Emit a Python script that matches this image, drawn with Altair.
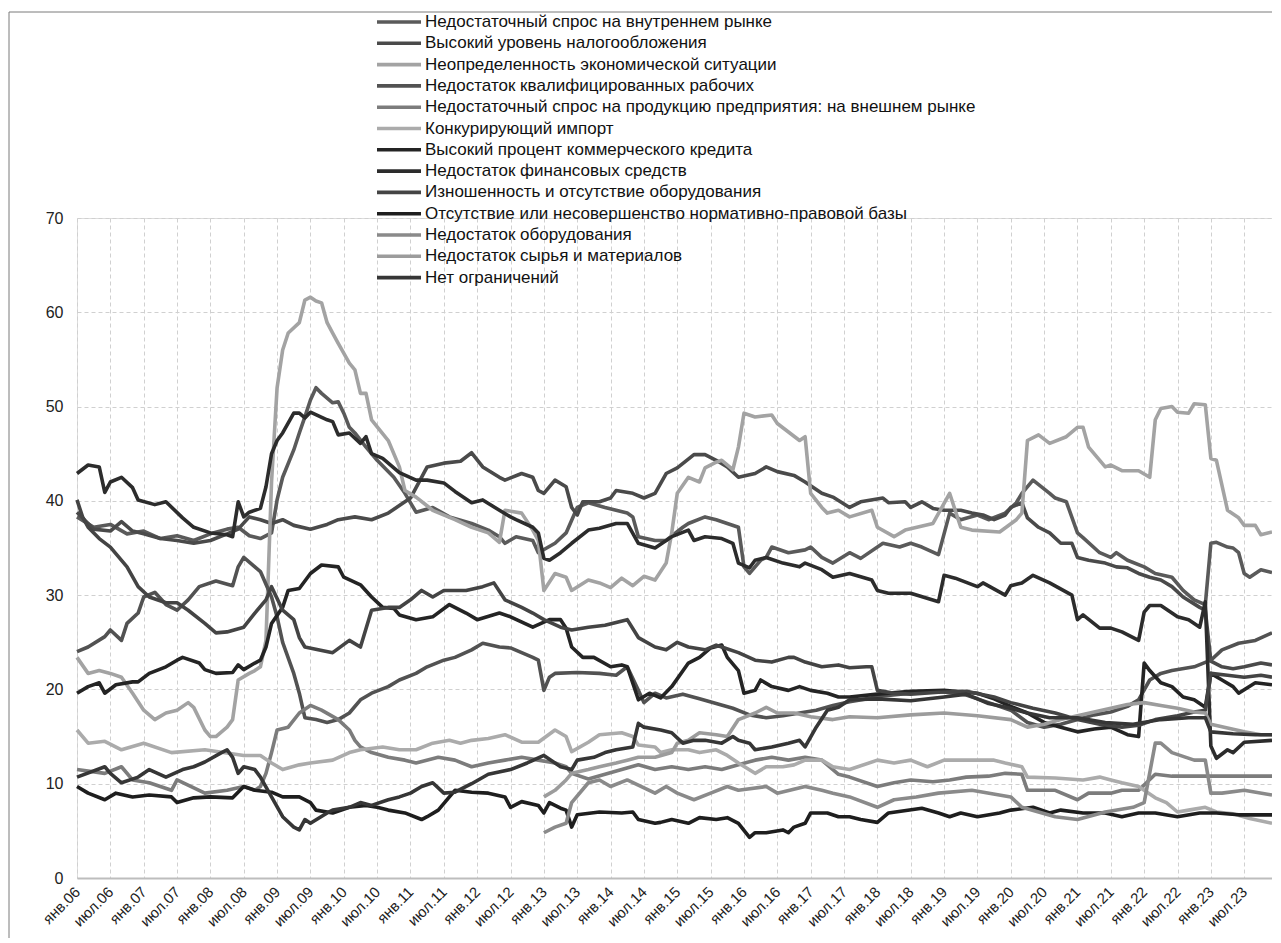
import altair as alt
import pandas as pd

tick_labels = ["янв.06", "июл.06", "янв.07", "июл.07", "янв.08", "июл.08", "янв.09", "июл.09",
               "янв.10", "июл.10", "янв.11", "июл.11", "янв.12", "июл.12", "янв.13", "июл.13",
               "янв.14", "июл.14", "янв.15", "июл.15", "янв.16", "июл.16", "янв.17", "июл.17",
               "янв.18", "июл.18", "янв.19", "июл.19", "янв.20", "июл.20", "янв.21", "июл.21",
               "янв.22", "июл.22", "янв.23", "июл.23"]

series_names = [
    "Недостаточный спрос на внутреннем рынке",
    "Высокий уровень налогообложения",
    "Неопределенность экономической ситуации",
    "Недостаток квалифицированных  рабочих",
    "Недостаточный спрос на продукцию предприятия: на внешнем рынке",
    "Конкурирующий импорт",
    "Высокий процент коммерческого кредита",
    "Недостаток финансовых средств",
    "Изношенность и отсутствие оборудования",
    "Отсутствие или несовершенство нормативно-правовой базы",
    "Недостаток оборудования",
    "Недостаток сырья и материалов",
    "Нет ограничений",
]
series_colors = ["#5a5a5a", "#4a4a4a", "#a3a3a3", "#525252", "#7c7c7c", "#ababab", "#242424",
                 "#2c2c2c", "#444444", "#1e1e1e", "#8a8a8a", "#9c9c9c", "#363636"]

# (month index from Jan 2006, percent)
dem = [(0,38.3),(3,37.2),(6,37.5),(9,36.5),(12,36.8),(15,36),(18,36.3),(21,35.8),(24,36.5),(27,37),(29,37.2),(31,36.3),(33,36),(35,36.6),(36,40.1),(37,42.5),(39,45.4),(40,47.2),(41,48.9),(42,50.7),(43,52),(44,51.4),(46,50.4),(47,50.5),(48,49.3),(49,47.8),(50,47.2),(52,45.7),(54,44.3),(57,42.5),(59,40.8),(61,38.8),(64,39.3),(67,38.3),(71,37.6),(74,36.9),(76,36.2),(77,35.5),(79,36.2),(82,35.8),(83,34.5),(86,35.5),(88,36.6),(90,39.3),(92,39.8),(95,39.3),(97,39),(99,38.7),(100,38.3),(101,36.2),(104,35.8),(106,35.8),(109,37.2),(110,37.6),(113,38.3),(115,38),(117,37.6),(119,37.2),(120,33),(121,32.3),(123,33.7),(124,34),(125,35.1),(128,34.5),(131,34.8),(132,35.1),(134,34),(136,33.4),(139,34.5),(141,33.9),(145,35.5),(148,35.1),(150,35.5),(152,35.1),(155,34.3),(157,38.7),(159,38),(162,38.5),(164,38),(167,38.7),(169,39.8),(170,40.8),(172,42.2),(175,40.8),(176,40.3),(178,39.9),(180,36.6),(181,36.1),(184,34.5),(186,34),(187,34.5),(189,33.7),(192,33),(194,32.3),(197,31.9),(199,30.5),(201,29.5),(203,29),(204,35.5),(205,35.6),(207,35.1),(208,35),(209,34.5),(210,32.3),(211,31.9),(213,32.7),(215,32.4)]
tax = [(0,38.8),(3,37),(6,36.8),(8,37.8),(10,36.8),(12,36.5),(15,36),(18,35.8),(21,35.5),(24,35.8),(27,36.5),(29,37),(31,38.3),(33,38),(35,37.6),(37,38),(39,37.4),(42,37),(45,37.5),(47,38),(50,38.3),(53,38),(56,38.7),(58,39.5),(60,40.3),(63,43.6),(66,44),(69,44.2),(71,45.1),(73,43.6),(76,42.5),(77,42.2),(80,42.9),(82,42.5),(83,41.1),(84,40.8),(86,42.2),(88,41.5),(89,39.3),(90,38.5),(91,39.9),(94,39.9),(96,40.3),(97,41.1),(100,40.8),(102,40.3),(104,40.8),(106,42.9),(108,43.5),(111,44.9),(113,44.9),(115,44.3),(117,43.6),(119,42.5),(122,42.9),(124,43.6),(126,43.1),(129,42.7),(131,42),(134,40.8),(136,40.4),(139,39.3),(141,39.9),(145,40.3),(146,39.8),(149,39.9),(150,39.3),(152,39.9),(154,39.2),(156,39),(159,39),(161,38.7),(163,38.5),(165,38),(167,38.5),(168,39.3),(170,39.8),(171,38.2),(173,37.2),(175,36.6),(177,35.5),(179,35.5),(180,34),(182,33.7),(185,33.4),(187,33),(189,32.9),(191,32.3),(193,31.9),(195,31.6),(197,30.9),(199,29.8),(202,28.7),(203,28.4),(204,23),(206,22.4),(208,22.2),(210,22.4),(213,22.8),(215,22.6)]
unc = [(0,23.4),(2,21.7),(4,22),(6,21.7),(8,21.3),(10,19.6),(12,17.8),(14,16.8),(16,17.5),(18,17.8),(20,18.6),(21,18.1),(23,15.7),(24,15),(25,15),(27,16),(28,16.8),(29,21),(31,21.7),(32,22),(33,22.4),(34,25.2),(35,42),(36,52),(37,56),(38,57.8),(40,58.9),(41,61.3),(42,61.6),(43,61.2),(44,61),(45,58.9),(46,57.8),(47,56.7),(49,54.6),(50,53.9),(51,51.4),(52,51.4),(53,48.6),(56,46.4),(58,43.6),(59,41.1),(61,40.4),(64,39),(68,38),(71,37.2),(74,36.6),(76,35.6),(77,39),(80,38.7),(82,36.9),(83,35.8),(84,30.5),(86,32.3),(88,31.9),(89,30.5),(92,31.6),(94,31.3),(96,30.8),(98,31.8),(100,31),(102,32),(104,31.6),(106,33.4),(107,36.6),(108,40.8),(110,42.5),(112,42),(113,43.5),(115,44.1),(116,44.3),(118,43.3),(119,45.7),(120,49.3),(122,48.9),(125,49.1),(126,48.2),(130,46.4),(131,46.8),(132,40.8),(134,39.3),(135,38.7),(137,39),(139,38.3),(143,39),(144,37.2),(147,36.2),(149,36.9),(154,37.6),(157,40.8),(159,37.2),(161,36.9),(166,36.7),(169,38),(170,38.7),(171,46.4),(173,47),(175,46.1),(178,46.8),(180,47.8),(181,47.8),(182,45.7),(185,43.6),(186,43.8),(188,43.2),(191,43.2),(193,42.5),(194,48.6),(195,49.8),(197,50),(198,49.4),(200,49.3),(201,50.3),(203,50.2),(204,44.5),(205,44.3),(207,39),(209,38.2),(210,37.4),(212,37.4),(213,36.4),(215,36.7)]
lab = [(0,24),(2,24.5),(5,25.6),(6,26.3),(8,25.2),(9,27),(11,28.1),(12,29.8),(14,30.3),(16,29),(18,28.4),(20,29.5),(22,30.9),(25,31.5),(28,31),(29,33),(30,34),(32,33),(33,32.5),(35,29.8),(36,27.7),(37,25),(39,21.7),(40,19.6),(41,17),(43,16.8),(45,16.5),(47,16.8),(49,17.5),(51,18.9),(53,19.6),(56,20.3),(58,21),(61,21.7),(63,22.4),(66,23.1),(68,23.4),(71,24.2),(73,24.9),(76,24.5),(78,24.4),(82,23.4),(83,23.1),(84,19.9),(85,21.3),(86,21.7),(90,21.8),(94,21.7),(97,21.5),(99,22.4),(101,19.9),(102,18.6),(104,19.6),(106,19.1),(109,19.5),(112,19),(115,18.5),(118,18),(121,17.3),(124,17),(127,17.2),(130,17.5),(133,17.8),(136,18.3),(139,18.7),(142,19),(145,19.3),(150,19.6),(155,19.8),(160,19.4),(164,18.6),(168,17.8),(171,16.5),(174,16),(177,16.3),(180,16.8),(183,17.3),(186,17.6),(189,18.2),(191,18.9),(193,21),(195,21.7),(197,22),(201,22.4),(204,23.1),(206,24.2),(209,24.9),(212,25.2),(215,26)]
ext = [(0,11.5),(5,11.1),(8,11.8),(10,10.4),(13,10.1),(17,9.3),(18,10.4),(23,9),(27,9.3),(30,9.7),(32,9.3),(33,9.7),(34,11.1),(35,13.3),(36,15.7),(38,16),(40,17.5),(42,18.3),(44,17.8),(47,16.8),(49,15.7),(50,14.6),(51,13.9),(53,13.3),(56,12.8),(59,12.5),(61,12.2),(65,12.8),(68,12.5),(71,11.8),(74,12.2),(77,12.5),(80,12.8),(83,12.5),(86,12.2),(88,11.8),(89,11.1),(92,10.5),(95,11),(98,11.5),(101,12),(104,11.5),(107,11.8),(110,11.5),(113,11.8),(116,11.5),(119,12),(122,12.5),(125,12.8),(128,12.5),(131,12.8),(134,12.5),(137,11),(139,10.7),(144,9.7),(147,10.1),(150,10.4),(154,10.2),(157,10.4),(160,10.7),(164,10.8),(167,11.1),(170,11),(171,9.3),(176,9.3),(180,8.3),(182,9),(186,9),(188,9.3),(191,9.3),(194,11),(197,10.8),(200,10.8),(204,10.8),(210,10.8),(215,10.8)]
imp = [(0,15.7),(2,14.3),(5,14.5),(8,13.6),(12,14.3),(17,13.3),(23,13.6),(30,13),(33,13),(35,12.2),(37,11.5),(40,12),(42,12.2),(46,12.5),(49,13.3),(51,13.6),(55,13.9),(58,13.6),(61,13.6),(64,14.3),(67,14.6),(69,14.3),(71,14.6),(74,14.8),(77,15.2),(80,14.4),(83,14.4),(86,15.7),(88,15),(89,13.4),(92,14.4),(94,15.2),(98,15.4),(100,15),(101,14.1),(104,13.9),(105,13.3),(107,13.6),(110,13.6),(112,13.3),(115,13.6),(117,13),(119,12.2),(122,11.1),(124,11.8),(127,11.8),(129,12),(131,12.5),(134,12.5),(136,11.8),(139,11.5),(144,12.5),(147,12.2),(150,12.5),(153,11.8),(156,12.5),(162,12.5),(165,12.5),(167,12.2),(170,11.8),(171,10.7),(176,10.6),(181,10.4),(184,10.7),(186,10.4),(188,10.1),(191,9.7),(192,9.3),(194,8.5),(196,8),(198,7),(200,7.2),(203,7.5),(205,7),(208,6.8),(211,6.3),(215,5.8)]
cred = [(0,19.6),(2,20.3),(4,20.7),(5,19.6),(7,20.5),(10,20.8),(11,20.8),(13,21.7),(16,22.4),(18,23.1),(19,23.4),(22,22.8),(23,22.1),(25,21.7),(28,21.8),(29,22.6),(30,22.1),(32,22.8),(33,23.1),(34,24.5),(35,27),(37,28.7),(38,30.5),(40,30.7),(42,32.3),(44,33.2),(47,33),(48,31.9),(51,31.1),(53,29.8),(55,28.7),(57,28.6),(58,27.9),(61,27.4),(64,27.7),(67,29),(70,28.1),(72,27.4),(76,28.1),(78,27.7),(82,26.6),(85,27.4),(87,27.4),(88,26.5),(89,24.5),(91,23.4),(93,23.4),(96,22.4),(98,22.6),(99,22.4),(101,18.9),(103,19.6),(105,19.1),(107,20.3),(110,22.8),(112,23.4),(114,24.4),(116,24.7),(117,23.4),(119,22),(120,19.6),(122,19.9),(123,21),(125,20.3),(128,19.9),(130,20.3),(132,19.9),(135,19.6),(137,19.2),(139,19.2),(144,19.5),(150,19.8),(156,19.9),(162,19.6),(165,19),(168,18.2),(171,17.5),(174,16.5),(177,16),(180,15.5),(183,15.8),(186,16),(189,15.2),(191,15),(192,22.8),(193,22),(195,20.7),(197,20.3),(199,19.2),(201,18.9),(203,18.1),(204,21.7),(206,21),(208,20.3),(209,19.6),(212,20.7),(215,20.5)]
fin = [(0,42.9),(2,43.8),(4,43.6),(5,40.9),(6,42),(8,42.5),(10,41.4),(11,40.1),(14,39.6),(16,39.9),(19,38.2),(21,37.2),(24,36.6),(27,36.4),(28,36.2),(29,39.9),(30,38.3),(31,38.8),(33,39.2),(34,41.5),(35,45),(36,46.4),(37,47.2),(39,49.3),(40,49.3),(41,48.8),(42,49.4),(45,48.6),(46,48.4),(47,47),(49,47.2),(51,46.1),(52,46.8),(53,45),(55,44.5),(58,43),(61,42.2),(63,42.2),(66,41.9),(68,41),(71,39.8),(73,40.1),(76,39),(78,38.3),(79,38),(82,37.2),(83,36.6),(84,33.9),(85,33.7),(87,34.5),(89,35.5),(92,36.9),(94,37.1),(97,37.6),(99,37.6),(101,35.5),(104,35),(107,36.2),(110,36.9),(111,35.8),(113,36.2),(116,36),(118,35.5),(119,33.4),(121,32.9),(122,33.7),(124,34),(127,33.4),(130,33),(131,33.4),(134,32.7),(136,31.9),(139,32.3),(143,31.6),(144,30.5),(146,30.2),(150,30.2),(155,29.3),(156,32.1),(158,31.8),(162,30.9),(163,31.3),(167,30),(168,31),(170,31.3),(172,32.1),(175,31.3),(179,30),(180,27.4),(181,27.9),(184,26.5),(186,26.5),(188,26.1),(191,25.2),(192,28.2),(193,28.9),(195,28.9),(198,27.7),(200,27.4),(202,26.6),(203,29.3),(204,14),(205,12.7),(207,13.6),(208,13.3),(210,14.4),(215,14.6)]
wear = [(0,40.1),(1,38.3),(2,37.2),(4,36),(6,35.1),(9,33),(11,30.9),(13,29.8),(16,29.2),(18,29.2),(20,28.4),(23,27),(25,26),(27,26.1),(30,26.6),(32,28.1),(34,29.5),(35,30.9),(37,28.4),(39,27.4),(40,25.5),(41,24.5),(46,23.9),(49,25.2),(51,24.5),(53,28.4),(56,28.7),(58,28.7),(60,29.5),(62,30.5),(64,29.8),(66,30.5),(70,30.5),(73,30.9),(75,31.3),(77,29.5),(80,28.7),(82,28.1),(84,27.4),(87,26.6),(89,26.3),(92,26.6),(95,26.8),(99,27.4),(101,25.5),(104,24.5),(106,24.2),(108,25),(110,24.5),(113,24.2),(115,24.7),(116,24.5),(119,23.9),(122,23.1),(125,22.9),(128,23.4),(129,23.4),(131,22.9),(134,22.4),(137,22.6),(139,22.3),(142,22.4),(143,22.4),(144,19.9),(147,19.6),(150,19.5),(155,19.7),(160,19.8),(165,19.2),(168,18.6),(172,18),(176,17.5),(180,16.8),(184,16.3),(188,16),(191,16.2),(194,16.8),(198,17.2),(201,17.6),(203,17.8),(204,21.7),(207,21.5),(210,21.3),(213,21.5),(215,21.3)]
norm = [(0,9.7),(2,9),(5,8.3),(7,9),(10,8.6),(13,8.8),(17,8.6),(18,8),(21,8.5),(24,8.6),(28,8.5),(30,9.7),(32,9.3),(35,9.1),(37,8.6),(40,8.6),(42,8),(43,7.2),(46,6.9),(49,7.5),(52,7.7),(54,7.5),(56,7.2),(59,6.9),(62,6.2),(63,6.5),(65,7.2),(67,8.6),(68,9.3),(71,9.1),(74,9),(77,8.6),(78,7.5),(80,8.1),(83,7.7),(84,6.9),(85,8),(87,7.4),(88,7.2),(89,5.4),(90,6.7),(94,7),(98,6.9),(100,7),(101,6.2),(104,5.8),(105,5.9),(107,6.2),(110,5.8),(112,6.4),(115,6.2),(117,6.4),(119,5.8),(121,4.3),(122,4.8),(124,4.8),(127,5.1),(128,4.8),(129,5.4),(131,5.8),(132,6.9),(135,6.9),(137,6.5),(139,6.5),(141,6.2),(144,5.9),(146,6.9),(152,7.4),(155,6.9),(157,6.5),(159,6.9),(162,6.5),(166,6.9),(168,7.2),(172,7.5),(175,6.9),(177,7.2),(181,6.9),(185,6.9),(188,6.5),(191,6.9),(194,6.9),(198,6.5),(202,6.9),(205,6.9),(209,6.7),(215,6.7)]
eq = [(84,4.8),(86,5.4),(88,5.8),(89,8),(92,10.1),(94,10.4),(96,9.7),(99,10.4),(104,9),(106,9.7),(108,9),(111,8.3),(114,9),(117,9.7),(119,9.3),(124,9.7),(126,9),(131,9.7),(134,9.3),(136,9),(139,8.6),(144,7.5),(147,8.3),(151,8.6),(155,9),(161,9.3),(168,8.6),(170,7.5),(176,6.5),(180,6.2),(185,7),(190,7.5),(192,8),(194,14.3),(195,14.3),(197,13.3),(201,12.5),(203,12.5),(204,9),(206,9),(210,9.3),(215,8.8)]
raw = [(84,8.6),(86,9.3),(88,10.4),(89,11.1),(92,11.5),(94,11.8),(97,12.2),(99,12.5),(101,12.8),(104,12.8),(107,13.3),(108,14.3),(110,14.6),(112,15.4),(115,15.2),(117,15),(119,16.8),(122,17.5),(124,18.1),(126,17.5),(129,17.5),(132,17.1),(136,16.8),(139,17.1),(144,17),(150,17.3),(156,17.5),(162,17.2),(168,16.8),(171,16),(174,16.3),(177,16.8),(180,17.2),(183,17.6),(186,18),(189,18.4),(192,18.6),(195,18.3),(198,18),(201,17.6),(203,17.5),(204,16.3),(207,15.9),(210,15.5),(213,15.2),(215,15.2)]
none_ = [(0,10.7),(5,11.8),(6,11.1),(8,10.1),(11,10.7),(13,11.5),(16,10.7),(19,11.5),(21,11.8),(23,12.3),(26,13.3),(27,13.6),(28,12.8),(29,11.1),(30,11.8),(32,11.5),(33,10.7),(35,8.6),(37,6.5),(39,5.4),(40,5.1),(41,6.2),(42,5.8),(45,6.9),(46,7.2),(49,7.5),(51,8),(53,7.7),(56,8.3),(58,8.6),(60,9),(62,9.7),(64,10.1),(66,9),(68,9.1),(71,10),(74,11),(78,11.5),(81,12.2),(84,13),(87,11.8),(89,11.5),(90,12.5),(93,12.8),(95,13.3),(97,13.6),(100,13.9),(101,16.4),(102,16),(105,15.7),(107,15.4),(109,14.3),(111,14.6),(113,14.6),(116,14.3),(118,15),(119,14.6),(121,14.3),(122,13.6),(125,13.9),(128,14.3),(130,14.6),(131,13.9),(133,16),(135,17.8),(137,18.1),(139,18.9),(144,19),(150,18.8),(156,19.2),(160,19.5),(164,18.5),(168,18),(171,17.5),(175,17),(180,17),(185,16.5),(190,16.3),(195,16.8),(200,17),(203,17),(204,15.5),(208,15.3),(212,15.2),(215,15.2)]

all_series = [dem, tax, unc, lab, ext, imp, cred, fin, wear, norm, eq, raw, none_]
rows = []
for idx, (name, pts) in enumerate(zip(series_names, all_series)):
    for m, v in pts:
        rows.append({"series": name, "order": idx, "month": m, "value": v})
df = pd.DataFrame(rows)

label_expr = "[" + ",".join("'" + t + "'" for t in tick_labels) + "][round(datum.value / 6)]"

W, H = 1195, 660

lines = alt.Chart(df).mark_line(strokeWidth=3.6, strokeJoin="round", strokeCap="butt").encode(
    x=alt.X("month:Q",
            scale=alt.Scale(domain=[0, 215], nice=False, zero=False),
            axis=alt.Axis(values=list(range(0, 211, 6)), labelExpr=label_expr, title=None,
                          labelAngle=-45, labelAlign="right", labelBaseline="middle",
                          labelPadding=11, ticks=False, grid=True, gridDash=[4, 3],
                          gridColor="#d0d0d0", gridWidth=1, domain=True, domainColor="#bdbdbd",
                          domainWidth=2, labelFont="Liberation Sans", labelFontSize=15,
                          labelColor="#222222", labelOverlap=False, labelBound=False)),
    y=alt.Y("value:Q",
            scale=alt.Scale(domain=[0, 70], nice=False, zero=True),
            axis=alt.Axis(values=list(range(0, 71, 10)), title=None, ticks=False, domain=False,
                          grid=True, gridDash=[4, 3], gridColor="#d0d0d0", gridWidth=1,
                          labelPadding=14, labelFont="Liberation Sans", labelFontSize=16,
                          labelColor="#222222")),
    color=alt.Color("series:N",
                    scale=alt.Scale(domain=series_names, range=series_colors),
                    legend=alt.Legend(orient="none", legendX=310, legendY=-208, title=None,
                                      symbolType="M-2.2,0L2.2,0", symbolSize=400,
                                      symbolStrokeWidth=3.6, labelFont="Liberation Sans",
                                      labelFontSize=17, labelColor="#111111", labelOffset=14,
                                      rowPadding=1.3, padding=0, labelLimit=0)),
    order=alt.Order("order:Q"),
    detail="series:N",
)

frame = alt.Chart(pd.DataFrame({"k": [0]})).mark_rect(
    fill="transparent", stroke="#7a7a7a", strokeWidth=1
).encode(x=alt.value(-68), x2=alt.value(W + 40), y=alt.value(-206), y2=alt.value(H + 120))

chart = alt.layer(frame, lines).properties(
    width=W, height=H,
    autosize=alt.AutoSizeParams(type="none"),
    padding={"left": 69, "top": 210, "right": 0, "bottom": 60},
).configure_view(stroke=None).configure(background="white")

chart.save("out.html", embed_options={"renderer": "svg", "actions": False})
